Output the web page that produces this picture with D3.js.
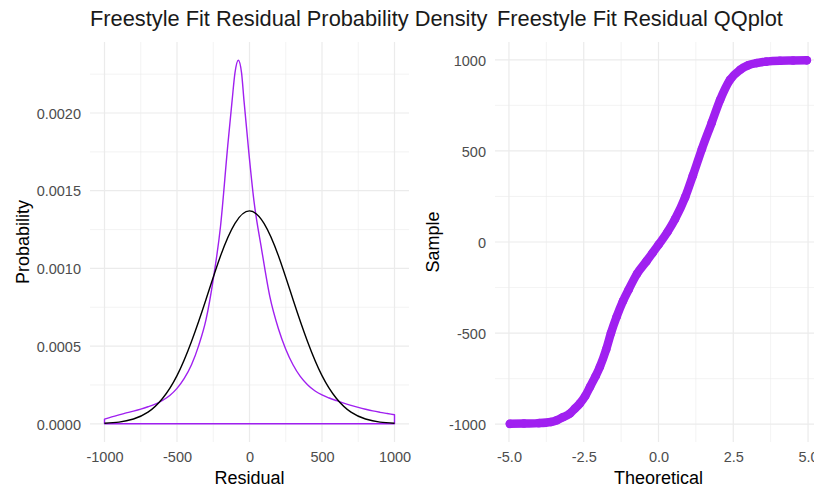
<!DOCTYPE html>
<html>
<head>
<meta charset="utf-8">
<script src="https://cdnjs.cloudflare.com/ajax/libs/d3/7.8.5/d3.min.js"></script>
<style>
  body { margin: 0; background: #fff; }
  text { font-family: "Liberation Sans", Arial, sans-serif; }
</style>
</head>
<body>
<div id="vis"></div>
<script>
// density panel values
var residualX = [-1000, -900, -800, -700, -600, -500, -400, -300, -200, -100, 0,
    100, 200, 300, 400, 500, 600, 700, 800, 900, 1000];
var normalDensity = [0.000004, 0.000011, 0.000031, 0.000075, 0.000163, 0.000310, 0.000530,
    0.000800, 0.001080, 0.001290, 0.001370, 0.001290, 0.001080, 0.000800, 0.000530,
    0.000310, 0.000163, 0.000075, 0.000031, 0.000011, 0.000004];

var kdeX = [-1000, -950, -900, -850, -800, -750, -700, -650, -600, -550, -500, -450, -400,
    -350, -300, -250, -200, -150, -120, -100, -77, -55, -38, -6, 30, 84, 140, 200, 250,
    300, 350, 400, 450, 500, 550, 600, 650, 700, 750, 800, 850, 900, 950, 1000];
var kdeDensity = [0.000030, 0.000045, 0.000058, 0.000070, 0.000082, 0.000095, 0.000110,
    0.000127, 0.000150, 0.000182, 0.000228, 0.000292, 0.000380, 0.000505, 0.000670,
    0.000930, 0.001270, 0.001790, 0.002080, 0.002260, 0.002340, 0.002260, 0.002080,
    0.001760, 0.001440, 0.001120, 0.000820, 0.000610, 0.000480, 0.000380, 0.000305,
    0.000252, 0.000213, 0.000186, 0.000166, 0.000149, 0.000133, 0.000119, 0.000106,
    0.000094, 0.000083, 0.000074, 0.000066, 0.000058];

// qq panel values
var theoretical = [-4.97, -4.5, -4.0, -3.6, -3.4, -3.2, -2.96, -2.8, -2.63, -2.45, -2.29,
    -2.1, -1.96, -1.75, -1.59, -1.4, -1.19, -1.0, -0.72, -0.4, -0.2, 0.0, 0.3, 0.55, 0.89,
    1.15, 1.45, 1.78, 2.06, 2.39, 2.73, 3.0, 3.28, 3.6, 4.06, 4.5, 4.96];
var sample = [-998, -996, -994, -988, -978, -962, -941, -915, -886, -845, -795,
    -735, -685, -590, -500, -410, -325, -262, -175, -105, -60, -15, 55, 125, 245,
    365, 510, 655, 780, 890, 945, 970, 982, 990, 995, 996, 997];

var densityTicks = [0, 0.0005, 0.001, 0.0015, 0.002];
var residualTicks = [-1000, -500, 0, 500, 1000];
var theoTicks = [-5, -2.5, 0, 2.5, 5];
var sampleTicks = [-1000, -500, 0, 500, 1000];

var width = 814;
var height = 489;
var purple = '#a020f0';
var grid = '#ebebeb';

var svg = d3.select('#vis')
    .append('svg')
    .attr('width', width)
    .attr('height', height);

// panel boxes
var left = { x0: 90, x1: 409, y0: 42, y1: 442 };
var right = { x0: 495, x1: 822, y0: 42, y1: 442 };

var xL = d3.scaleLinear().domain([-1100, 1100]).range([left.x0, left.x1]);
var yL = d3.scaleLinear().domain([-0.000117, 0.002457]).range([left.y1, left.y0]);
var xR = d3.scaleLinear().domain([-5.467, 5.467]).range([right.x0, right.x1]);
var yR = d3.scaleLinear().domain([-1097.6, 1097.6]).range([right.y1, right.y0]);

// plain hyphen for negatives, like the original
function hyphen(fmt) {
    return function(d) { return fmt(d).replace('\u2212', '-'); };
}

function drawGrid(g, xs, ys, xt, yt, box) {
    var xStep = xt[1] - xt[0];
    var yStep = yt[1] - yt[0];
    var xMinor = xt.slice(1).map(function(d) { return d - xStep / 2; });
    var yMinor = yt.slice(1).map(function(d) { return d - yStep / 2; });
    yMinor.push(yt[yt.length - 1] + yStep / 2);
    yMinor = yMinor.filter(function(d) { return ys(d) > box.y0; });

    g.selectAll('.xminor').data(xMinor).enter().append('line')
        .attr('x1', function(d) { return xs(d); }).attr('x2', function(d) { return xs(d); })
        .attr('y1', box.y0).attr('y2', box.y1)
        .attr('stroke', grid).attr('stroke-width', 0.6);
    g.selectAll('.yminor').data(yMinor).enter().append('line')
        .attr('y1', function(d) { return ys(d); }).attr('y2', function(d) { return ys(d); })
        .attr('x1', box.x0).attr('x2', box.x1)
        .attr('stroke', grid).attr('stroke-width', 0.6);
    g.selectAll('.xmajor').data(xt).enter().append('line')
        .attr('x1', function(d) { return xs(d); }).attr('x2', function(d) { return xs(d); })
        .attr('y1', box.y0).attr('y2', box.y1)
        .attr('stroke', grid).attr('stroke-width', 1.2);
    g.selectAll('.ymajor').data(yt).enter().append('line')
        .attr('y1', function(d) { return ys(d); }).attr('y2', function(d) { return ys(d); })
        .attr('x1', box.x0).attr('x2', box.x1)
        .attr('stroke', grid).attr('stroke-width', 1.2);
}

function drawAxes(xs, ys, xt, yt, box, xfmt, yfmt) {
    var xa = svg.append('g')
        .attr('transform', 'translate(0,' + (box.y1 + 2) + ')')
        .call(d3.axisBottom(xs).tickValues(xt).tickFormat(hyphen(xfmt)).tickSize(0).tickPadding(8));
    var ya = svg.append('g')
        .attr('transform', 'translate(' + (box.x0 - 6) + ',0)')
        .call(d3.axisLeft(ys).tickValues(yt).tickFormat(hyphen(yfmt)).tickSize(0).tickPadding(3));
    [xa, ya].forEach(function(a) {
        a.select('.domain').remove();
        a.selectAll('text')
            .attr('fill', '#4d4d4d')
            .style('font-size', '14.5px')
            .style('font-family', '"Liberation Sans", Arial, sans-serif');
    });
    ya.selectAll('text').attr('dy', '0.36em');
}

// left: density panel
var gL = svg.append('g');
drawGrid(gL, xL, yL, residualTicks, densityTicks, left);
drawAxes(xL, yL, residualTicks, densityTicks, left, d3.format('d'), d3.format('.4f'));

var kde = kdeX.map(function(d, i) { return [d, kdeDensity[i]]; });
var kdeLine = d3.line()
    .x(function(d) { return xL(d[0]); })
    .y(function(d) { return yL(d[1]); })
    .curve(d3.curveMonotoneX);
var kdePath = kdeLine(kde) +
    'L' + xL(kdeX[kdeX.length - 1]) + ',' + yL(0) +
    'L' + xL(kdeX[0]) + ',' + yL(0) + 'Z';
gL.append('path')
    .attr('d', kdePath)
    .attr('fill', 'none')
    .attr('stroke', purple)
    .attr('stroke-width', 1.4)
    .attr('stroke-linejoin', 'round');

var norm = residualX.map(function(d, i) { return [d, normalDensity[i]]; });
gL.append('path')
    .attr('d', d3.line()
        .x(function(d) { return xL(d[0]); })
        .y(function(d) { return yL(d[1]); })
        .curve(d3.curveNatural)(norm))
    .attr('fill', 'none')
    .attr('stroke', '#000')
    .attr('stroke-width', 1.4);

// right: qq panel
var gR = svg.append('g');
drawGrid(gR, xR, yR, theoTicks, sampleTicks, right);
drawAxes(xR, yR, theoTicks, sampleTicks, right, d3.format('.1f'), d3.format('d'));

var qq = theoretical.map(function(d, i) { return [d, sample[i]]; });
gR.append('path')
    .attr('d', d3.line()
        .x(function(d) { return xR(d[0]); })
        .y(function(d) { return yR(d[1]); })
        .curve(d3.curveMonotoneX)(qq))
    .attr('fill', 'none')
    .attr('stroke', purple)
    .attr('stroke-width', 8.5)
    .attr('stroke-linecap', 'round');
gR.selectAll('circle')
    .data(qq)
    .enter()
    .append('circle')
    .attr('cx', function(d) { return xR(d[0]); })
    .attr('cy', function(d) { return yR(d[1]); })
    .attr('r', 4.3)
    .attr('fill', purple);

// titles
svg.append('text')
    .attr('x', 90).attr('y', 26)
    .style('font-size', '21.8px')
    .attr('fill', '#1a1a1a')
    .text('Freestyle Fit Residual Probability Density');
svg.append('text')
    .attr('x', 497).attr('y', 26)
    .style('font-size', '21.8px')
    .attr('fill', '#1a1a1a')
    .text('Freestyle Fit Residual QQplot');

// axis titles
svg.append('text')
    .attr('x', (left.x0 + left.x1) / 2).attr('y', 484)
    .style('text-anchor', 'middle')
    .style('font-size', '18px')
    .text('Residual');
svg.append('text')
    .attr('x', xR(0)).attr('y', 484)
    .style('text-anchor', 'middle')
    .style('font-size', '18px')
    .text('Theoretical');
svg.append('text')
    .attr('transform', 'translate(29,242) rotate(-90)')
    .style('text-anchor', 'middle')
    .style('font-size', '18px')
    .text('Probability');
svg.append('text')
    .attr('transform', 'translate(439,242) rotate(-90)')
    .style('text-anchor', 'middle')
    .style('font-size', '18px')
    .text('Sample');
</script>
</body>
</html>
